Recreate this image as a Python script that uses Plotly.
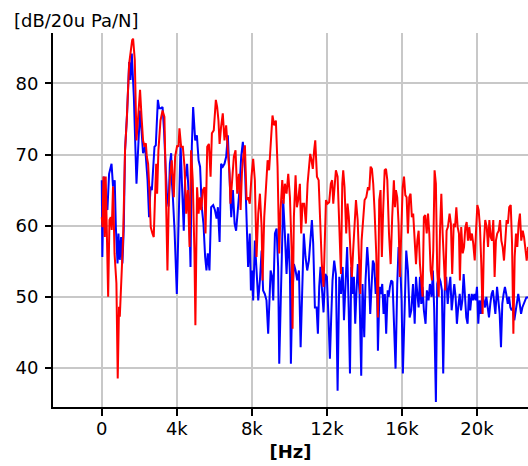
import plotly.graph_objects as go

# Sensitivity spectra (frequency in kHz, level in dB re 20 uPa/N)
blue_khz = [0.00, 0.03, 0.11, 0.20, 0.30, 0.39, 0.52, 0.60, 0.69, 0.75, 0.84, 0.89, 0.96, 1.03, 1.10, 1.17,
            1.24, 1.35, 1.46, 1.53, 1.60, 1.71, 1.78, 1.85, 1.96, 2.04, 2.13, 2.20, 2.31, 2.38, 2.44, 2.52,
            2.60, 2.67, 2.74, 2.81, 2.88, 2.99, 3.06, 3.15, 3.24, 3.32, 3.41, 3.48, 3.56, 3.63, 3.70, 3.73,
            3.79, 3.88, 4.00, 4.09, 4.20, 4.28, 4.37, 4.44, 4.55, 4.64, 4.73, 4.80, 4.87, 4.98, 5.07, 5.16,
            5.24, 5.33, 5.42, 5.51, 5.58, 5.65, 5.74, 5.83, 5.94, 6.03, 6.12, 6.19, 6.28, 6.36, 6.45, 6.54,
            6.63, 6.72, 6.81, 6.90, 6.99, 7.08, 7.16, 7.25, 7.34, 7.43, 7.52, 7.63, 7.72, 7.80, 7.89, 7.95,
            8.02, 8.07, 8.16, 8.25, 8.34, 8.43, 8.52, 8.60, 8.69, 8.78, 8.87, 9.00, 9.08, 9.14, 9.23, 9.32,
            9.40, 9.46, 9.53, 9.60, 9.67, 9.76, 9.85, 9.94, 10.03, 10.08, 10.15, 10.24, 10.33, 10.42, 10.51,
            10.60, 10.68, 10.77, 10.86, 10.95, 11.04, 11.13, 11.20, 11.27, 11.36, 11.45, 11.52, 11.59, 11.66,
            11.73, 11.82, 11.91, 12.00, 12.09, 12.16, 12.23, 12.30, 12.39, 12.48, 12.57, 12.66, 12.75, 12.84,
            12.91, 13.00, 13.08, 13.16, 13.23, 13.30, 13.37, 13.44, 13.51, 13.58, 13.65, 13.74, 13.83, 13.90,
            13.99, 14.06, 14.15, 14.22, 14.31, 14.38, 14.45, 14.52, 14.60, 14.67, 14.72, 14.81, 14.88, 14.95,
            15.02, 15.09, 15.16, 15.24, 15.29, 15.36, 15.43, 15.50, 15.57, 15.66, 15.75, 15.82, 15.89, 15.98,
            16.05, 16.14, 16.23, 16.32, 16.41, 16.50, 16.59, 16.68, 16.75, 16.82, 16.89, 16.96, 17.03, 17.10,
            17.17, 17.26, 17.33, 17.42, 17.49, 17.58, 17.65, 17.72, 17.81, 17.88, 17.97, 18.06, 18.13, 18.20,
            18.28, 18.36, 18.44, 18.51, 18.58, 18.65, 18.72, 18.79, 18.86, 18.93, 19.00, 19.08, 19.15, 19.22,
            19.29, 19.36, 19.43, 19.50, 19.57, 19.64, 19.72, 19.79, 19.86, 19.93, 20.00, 20.07, 20.14, 20.21,
            20.28, 20.36, 20.43, 20.50, 20.57, 20.64, 20.71, 20.78, 20.85, 20.92, 20.98, 21.07, 21.14, 21.21,
            21.28, 21.35, 21.42, 21.49, 21.56, 21.64, 21.71, 21.78, 21.85, 21.92, 21.99, 22.06, 22.13, 22.20,
            22.28, 22.35, 22.42, 22.49, 22.56, 22.63, 22.70, 22.80]
blue_db = [66.4, 55.6, 66.9, 63.6, 62.2, 67.3, 68.7, 65.5, 66.4, 59.8, 54.7, 58.9, 55.2, 58.4, 54.7, 59.4,
           70.6, 75.8, 83.0, 80.5, 84.2, 78.1, 72.0, 65.9, 72.0, 76.2, 73.0, 70.2, 71.1, 68.7, 66.4, 61.2,
           65.5, 65.0, 68.7, 71.1, 71.3, 77.7, 76.5, 76.5, 76.7, 73.4, 67.8, 64.1, 62.7, 68.7, 70.2, 66.4,
           64.0, 59.3, 50.4, 61.7, 71.5, 65.4, 59.3, 66.4, 68.7, 64.0, 54.2, 71.1, 76.7, 72.0, 72.7, 69.2,
           68.3, 62.6, 60.3, 55.6, 53.7, 56.1, 53.7, 62.6, 62.9, 62.2, 61.0, 62.6, 57.7, 68.7, 68.3, 68.7,
           69.7, 72.7, 67.3, 61.2, 65.0, 60.3, 59.3, 61.7, 65.0, 69.7, 71.8, 68.3, 60.3, 54.2, 58.9, 50.9,
           53.7, 49.5, 57.9, 53.7, 49.5, 52.3, 56.5, 50.9, 50.4, 49.5, 44.8, 53.7, 52.8, 49.5, 58.9, 59.6,
           54.2, 40.6, 49.5, 56.5, 63.6, 58.9, 53.2, 58.9, 53.2, 40.6, 49.5, 54.6, 53.7, 52.3, 53.7,
           42.9, 51.4, 58.9, 55.6, 53.7, 55.1, 57.9, 60.8, 57.5, 48.5, 48.5, 44.8, 51.4, 54.2,
           51.4, 47.8, 53.2, 52.8, 46.7, 41.3, 47.1, 52.3, 55.1, 53.2, 36.8, 52.8, 50.4, 54.2,
           46.7, 52.3, 57.0, 48.5, 39.2, 54.2, 50.4, 52.8, 46.2, 50.9, 54.6, 50.4, 38.9, 51.8,
           44.3, 52.3, 57.0, 54.2, 47.6, 51.4, 55.1, 54.6, 50.4, 52.8, 42.4, 51.4, 50.4, 51.8,
           47.6, 50.4, 44.8, 50.9, 50.0, 51.4, 52.3, 52.1, 45.7, 39.9, 51.8, 57.0, 56.1, 49.5,
           39.2, 49.5, 56.5, 53.7, 47.1, 48.1, 51.8, 46.2, 52.8, 50.4, 48.5, 52.8, 49.0, 51.4,
           48.1, 46.2, 50.9, 49.5, 51.8, 50.0, 53.7, 48.1, 35.2, 51.8, 52.8, 52.1, 50.9, 39.2,
           50.9, 52.8, 49.0, 51.4, 52.8, 48.1, 50.0, 51.8, 50.0, 46.2, 48.5, 50.4, 48.1, 49.5,
           53.2, 49.5, 47.1, 46.2, 50.4, 48.1, 50.4, 49.5, 50.4, 49.5, 51.4, 46.2, 49.5, 47.6,
           50.4, 49.5, 48.5, 50.0, 48.1, 47.1, 49.0, 50.4, 50.9, 49.5, 47.6, 51.4, 49.5, 47.6,
           42.9, 49.0, 50.4, 51.4, 50.4, 49.0, 50.0, 48.5, 48.1, 48.5, 46.7, 48.1, 49.5, 50.4,
           49.0, 47.6, 48.5, 49.0, 49.5, 49.9, 49.9, 50.0]

red_khz = [0.00, 0.04, 0.09, 0.16, 0.21, 0.28, 0.34, 0.41, 0.48, 0.53, 0.60, 0.68, 0.78, 0.85, 0.92, 0.96,
           1.07, 1.14, 1.24, 1.33, 1.46, 1.55, 1.62, 1.67, 1.76, 1.85, 1.96, 2.04, 2.12, 2.20, 2.28, 2.35,
           2.40, 2.47, 2.54, 2.61, 2.70, 2.77, 2.84, 2.90, 2.95, 3.02, 3.13, 3.24, 3.34, 3.41, 3.50, 3.57,
           3.64, 3.73, 3.79, 3.84, 3.91, 4.02, 4.09, 4.14, 4.23, 4.32, 4.41, 4.50, 4.59, 4.68, 4.76, 4.85,
           4.94, 4.99, 5.08, 5.16, 5.23, 5.30, 5.39, 5.48, 5.53, 5.62, 5.71, 5.80, 5.87, 5.97, 6.08, 6.15,
           6.22, 6.28, 6.36, 6.45, 6.54, 6.63, 6.72, 6.81, 6.86, 6.95, 7.04, 7.13, 7.22, 7.31, 7.40, 7.47,
           7.54, 7.63, 7.72, 7.80, 7.89, 7.98, 8.07, 8.16, 8.25, 8.34, 8.43, 8.52, 8.57, 8.66, 8.75, 8.84,
           8.92, 9.01, 9.10, 9.19, 9.28, 9.37, 9.46, 9.53, 9.62, 9.69, 9.76, 9.85, 9.94, 10.03, 10.12,
           10.17, 10.24, 10.33, 10.40, 10.47, 10.56, 10.63, 10.70, 10.79, 10.88, 10.97, 11.04, 11.11,
           11.18, 11.25, 11.32, 11.38, 11.47, 11.56, 11.64, 11.73, 11.82, 11.88, 11.95, 12.04, 12.12,
           12.21, 12.28, 12.34, 12.41, 12.48, 12.57, 12.66, 12.75, 12.82, 12.87, 12.94, 13.03, 13.10,
           13.17, 13.26, 13.33, 13.40, 13.48, 13.55, 13.64, 13.71, 13.78, 13.85, 13.92, 14.01, 14.10,
           14.19, 14.26, 14.33, 14.40, 14.47, 14.54, 14.63, 14.72, 14.79, 14.86, 14.93, 15.00, 15.08,
           15.15, 15.22, 15.31, 15.40, 15.48, 15.57, 15.63, 15.68, 15.75, 15.82, 15.89, 15.96, 16.04,
           16.11, 16.18, 16.25, 16.32, 16.39, 16.46, 16.53, 16.60, 16.68, 16.75, 16.82, 16.89, 16.96,
           17.03, 17.10, 17.17, 17.24, 17.32, 17.39, 17.46, 17.53, 17.60, 17.67, 17.74, 17.81, 17.88,
           17.96, 18.03, 18.10, 18.17, 18.24, 18.31, 18.38, 18.45, 18.54, 18.61, 18.68, 18.76, 18.83,
           18.90, 18.97, 19.04, 19.09, 19.16, 19.24, 19.31, 19.38, 19.45, 19.52, 19.59, 19.66, 19.73,
           19.80, 19.88, 19.95, 20.02, 20.09, 20.16, 20.23, 20.30, 20.37, 20.44, 20.52, 20.59, 20.66,
           20.73, 20.80, 20.87, 20.94, 21.01, 21.08, 21.16, 21.23, 21.30, 21.37, 21.44, 21.51, 21.58,
           21.65, 21.72, 21.80, 21.87, 21.94, 22.01, 22.08, 22.15, 22.22, 22.29, 22.36, 22.44, 22.51,
           22.58, 22.65, 22.72, 22.80]
red_db = [61.2, 59.8, 66.9, 58.4, 66.9, 59.4, 50.0, 60.8, 61.2, 59.4, 65.5, 56.1, 51.9, 38.5, 48.6, 47.2,
          55.6, 58.4, 70.6, 74.8, 82.8, 84.7, 86.1, 86.3, 83.3, 72.0, 75.8, 79.1, 75.3, 72.0, 71.1, 71.6,
          69.7, 68.7, 65.0, 59.8, 58.9, 58.4, 64.1, 68.7, 64.5, 70.6, 74.8, 76.2, 75.3, 65.9, 53.7, 63.1,
          66.9, 69.2, 66.4, 64.0, 69.7, 71.3, 71.1, 73.7, 71.1, 71.1, 68.3, 61.7, 65.0, 57.0, 70.6, 66.4,
          56.1, 46.0, 65.4, 61.7, 64.0, 62.2, 65.0, 65.4, 58.9, 71.1, 71.5, 66.9, 73.0, 73.4, 77.7, 76.7,
          74.8, 71.5, 73.9, 75.8, 72.0, 74.1, 70.6, 67.3, 63.1, 66.9, 69.7, 70.6, 64.5, 67.3, 62.2, 67.3,
          69.7, 71.3, 63.6, 64.0, 63.1, 66.9, 69.4, 66.4, 55.6, 61.7, 64.5, 59.8, 52.3, 61.2, 65.4, 69.2,
          67.8, 72.5, 75.5, 74.1, 74.8, 68.3, 56.1, 62.2, 66.4, 63.1, 65.9, 64.5, 67.3, 64.0, 56.5,
          45.5, 61.2, 67.1, 62.6, 63.6, 65.9, 58.9, 63.1, 63.1, 60.3, 65.9, 68.3, 70.1,
          69.2, 68.0, 70.6, 72.0, 66.9, 66.4, 60.8, 54.6, 51.4, 56.1, 63.6, 63.1, 63.3,
          65.9, 66.4, 63.1, 65.4, 67.8, 66.9, 59.3, 53.2, 65.9, 67.8, 65.4, 58.9, 63.1,
          61.2, 56.1, 52.8, 56.5, 60.8, 63.6, 60.8, 55.1, 50.4, 57.9, 60.8, 63.6, 64.0,
          65.4, 65.0, 68.3, 68.0, 65.9, 62.2, 56.1, 47.1, 63.6, 65.0, 55.6, 62.2, 67.8,
          68.0, 66.4, 58.9, 54.6, 61.2, 66.4, 62.6, 65.0, 64.0, 60.3, 52.8, 59.8, 65.4,
          66.9, 64.3, 64.0, 58.9, 64.0, 64.5, 61.2, 61.7, 57.9, 54.6, 57.9, 59.3, 54.6,
          51.8, 50.0, 61.2, 61.5, 58.9, 61.7, 58.9, 53.7, 52.3, 56.5, 67.8, 65.9, 53.7,
          50.0, 59.3, 64.5, 58.9, 53.7, 50.9, 59.3, 59.8, 61.7, 60.3, 53.2, 60.3, 59.8,
          62.6, 59.8, 58.9, 52.3, 59.8, 56.1, 57.0, 59.8, 60.5, 57.9, 59.8, 57.9, 58.9,
          57.5, 55.1, 59.3, 62.9, 62.2, 59.8, 54.6, 47.6, 57.5, 60.8, 59.8, 57.0, 60.8,
          58.4, 57.9, 60.8, 52.8, 57.9, 58.9, 59.3, 60.8, 57.9, 57.0, 55.1, 57.9, 60.8,
          60.3, 62.6, 62.9, 57.5, 44.8, 55.6, 58.9, 57.0, 60.3, 61.7, 57.9, 59.3, 58.4,
          56.1, 55.1, 57.0, 56.5]

x_ticks = [0, 4000, 8000, 12000, 16000, 20000]
x_tick_text = ["0", "4k", "8k", "12k", "16k", "20k"]
y_ticks = [40, 50, 60, 70, 80]

FONT = "DejaVu Sans"

fig = go.Figure()
fig.add_trace(go.Scatter(x=[f * 1000 for f in blue_khz], y=blue_db, mode="lines",
                         line=dict(color="#0000ff", width=2), showlegend=False))
fig.add_trace(go.Scatter(x=[f * 1000 for f in red_khz], y=red_db, mode="lines",
                         line=dict(color="#ff0000", width=2), showlegend=False))

fig.update_layout(
    width=528, height=466,
    margin=dict(l=53, r=0, t=33, b=59),
    paper_bgcolor="white", plot_bgcolor="white",
    font=dict(family=FONT, size=18, color="black"),
    xaxis=dict(
        range=[-2600, 22720], tickvals=x_ticks, ticktext=x_tick_text,
        showgrid=True, gridcolor="#c8c8c8", gridwidth=2,
        showline=True, linecolor="black", linewidth=2,
        ticks="outside", ticklen=7, tickwidth=2, tickcolor="black",
        ticklabelstandoff=-3,
        zeroline=False,
        title=dict(text="<b>[Hz]</b>", font=dict(family=FONT, size=18), standoff=8),
    ),
    yaxis=dict(
        range=[34.5, 87.1], tickvals=y_ticks,
        showgrid=True, gridcolor="#c8c8c8", gridwidth=2,
        showline=True, linecolor="black", linewidth=2,
        ticks="outside", ticklen=6, tickwidth=2, tickcolor="black",
        ticklabelstandoff=3,
        zeroline=False,
    ),
    annotations=[dict(
        text="[dB/20u Pa/N]", xref="paper", yref="paper", x=0, y=1,
        xanchor="left", yanchor="middle", xshift=-41, yshift=13,
        showarrow=False, font=dict(family=FONT, size=18),
    )],
)

fig.write_html("out.html")
